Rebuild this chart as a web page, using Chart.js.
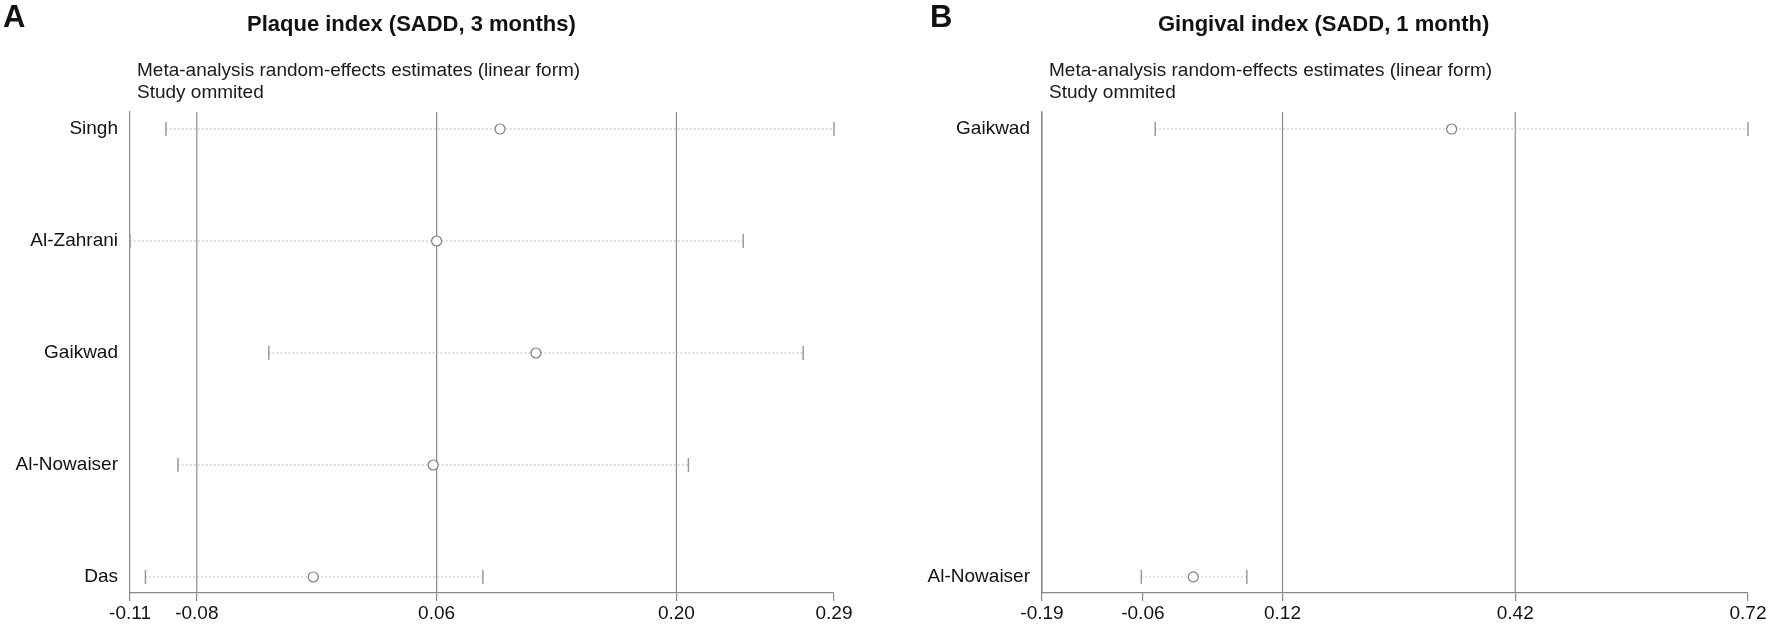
<!DOCTYPE html>
<html>
<head>
<meta charset="utf-8">
<script src="https://cdn.jsdelivr.net/npm/chart.js@4.4.1/dist/chart.umd.min.js"></script>
<style>
  html, body { margin:0; padding:0; background:#fff; }
  body { width:1772px; height:624px; position:relative; overflow:hidden; font-family:"Liberation Sans", Arial, sans-serif; color:#111; }
  canvas { position:absolute; top:0; }
  .txt { position:absolute; white-space:nowrap; }
  .letter { font-weight:bold; font-size:31px; line-height:36px; }
  .title { font-weight:bold; font-size:22px; line-height:25px; }
  .sub { font-size:19px; line-height:22px; color:#1a1a1a; }
</style>
</head>
<body>
<canvas id="cA" width="886" height="624" style="left:0"></canvas>
<canvas id="cB" width="886" height="624" style="left:886px"></canvas>
<div class="txt letter" style="left:3px; top:-1px;">A</div>
<div class="txt title" style="left:247px; top:11px;">Plaque index (SADD, 3 months)</div>
<div class="txt sub" style="left:137px; top:59px;">Meta-analysis random-effects estimates (linear form)<br>Study ommited</div>
<div class="txt letter" style="left:930px; top:-1px;">B</div>
<div class="txt title" style="left:1158px; top:11px;">Gingival index (SADD, 1 month)</div>
<div class="txt sub" style="left:1049px; top:59px;">Meta-analysis random-effects estimates (linear form)<br>Study ommited</div>
<script>
// ---- Panel A: Plaque index (SADD, 3 months) ----
const studiesA = ['Singh', 'Al-Zahrani', 'Gaikwad', 'Al-Nowaiser', 'Das'];
const estA = [0.097, 0.060, 0.118, 0.058, -0.012];
const loA  = [-0.098, -0.119, -0.038, -0.091, -0.110];
const hiA  = [0.292, 0.239, 0.274, 0.207, 0.087];
const refA = [-0.08, 0.06, 0.20];
const tickValsA = [-0.119, -0.08, 0.06, 0.20, 0.292];
const tickLabelsA = ['-0.11', '-0.08', '0.06', '0.20', '0.29'];

// ---- Panel B: Gingival index (SADD, 1 month) ----
const studiesB = ['Gaikwad', 'Al-Nowaiser'];
const estB = [0.338, 0.005];
const loB  = [-0.044, -0.062];
const hiB  = [0.720, 0.074];
const refB = [-0.19, 0.12, 0.42];
const tickValsB = [-0.19, -0.06, 0.12, 0.42, 0.72];
const tickLabelsB = ['-0.19', '-0.06', '0.12', '0.42', '0.72'];

const FONT = '"Liberation Sans", Arial, sans-serif';
const AXIS_COLOR = '#8a8a8a';

function makePanel(canvasId, studies, est, lo, hi, refs, tickVals, tickLabels, cfg) {
  const n = studies.length;
  const datasets = [];
  datasets.push({
    data: est.map((v, i) => ({x: v, y: i})),
    pointStyle: 'circle', pointRadius: 5, pointBorderColor: '#7d7d7d',
    pointBackgroundColor: '#ffffff', pointBorderWidth: 1.2, showLine: false, clip: false
  });
  datasets.push({
    data: lo.map((v, i) => ({x: v, y: i})).concat(hi.map((v, i) => ({x: v, y: i}))),
    pointStyle: 'line', rotation: 90, pointRadius: 7, pointBorderColor: '#9a9a9a',
    pointBorderWidth: 1.5, showLine: false, clip: false
  });
  for (let i = 0; i < n; i++) {
    datasets.push({
      data: [{x: lo[i], y: i}, {x: hi[i], y: i}],
      showLine: true, borderColor: '#c6c6c6', borderWidth: 1.3, borderDash: [1.5, 2.5],
      pointRadius: 0, clip: false
    });
  }
  refs.forEach(r => {
    datasets.push({
      data: [{x: r, y: cfg.ymin}, {x: r, y: cfg.ymax}],
      showLine: true, borderColor: AXIS_COLOR, borderWidth: 1.2, pointRadius: 0
    });
  });

  new Chart(document.getElementById(canvasId), {
    type: 'scatter',
    data: { datasets },
    options: {
      responsive: false, animation: false, devicePixelRatio: 1,
      layout: { padding: { left: 0, right: cfg.padRight, top: 112, bottom: 0 } },
      plugins: { legend: { display: false }, tooltip: { enabled: false } },
      scales: {
        x: {
          type: 'linear', min: cfg.xmin, max: cfg.xmax,
          afterBuildTicks: s => { s.ticks = tickVals.map(v => ({value: v})); },
          afterFit: s => { s.height = 31; },
          ticks: {
            autoSkip: false, maxRotation: 0, padding: 1,
            callback: (v, i) => tickLabels[i],
            font: { family: FONT, size: 19 }, color: '#111'
          },
          grid: { drawOnChartArea: false, drawTicks: true, tickLength: 8, color: AXIS_COLOR, lineWidth: 1.2 },
          border: { display: true, color: AXIS_COLOR, width: 1.2 }
        },
        y: {
          type: 'linear', reverse: true, min: cfg.ymin, max: cfg.ymax,
          afterBuildTicks: s => { s.ticks = studies.map((_, i) => ({value: i})); },
          afterFit: s => { s.width = cfg.yWidth; },
          ticks: {
            autoSkip: false, padding: 12,
            callback: (v, i) => studies[i],
            font: { family: FONT, size: 19 }, color: '#111'
          },
          grid: { display: false, drawTicks: false },
          border: { display: true, color: AXIS_COLOR, width: 1.2 }
        }
      }
    }
  });
}

makePanel('cA', studiesA, estA, loA, hiA, refA, tickValsA, tickLabelsA,
  { xmin: -0.119, xmax: 0.292, ymin: -0.152, ymax: 4.143, yWidth: 130, padRight: 52 });
makePanel('cB', studiesB, estB, loB, hiB, refB, tickValsB, tickLabelsB,
  { xmin: -0.19, xmax: 0.72, ymin: -0.038, ymax: 1.036, yWidth: 156, padRight: 24 });
</script>
</body>
</html>
